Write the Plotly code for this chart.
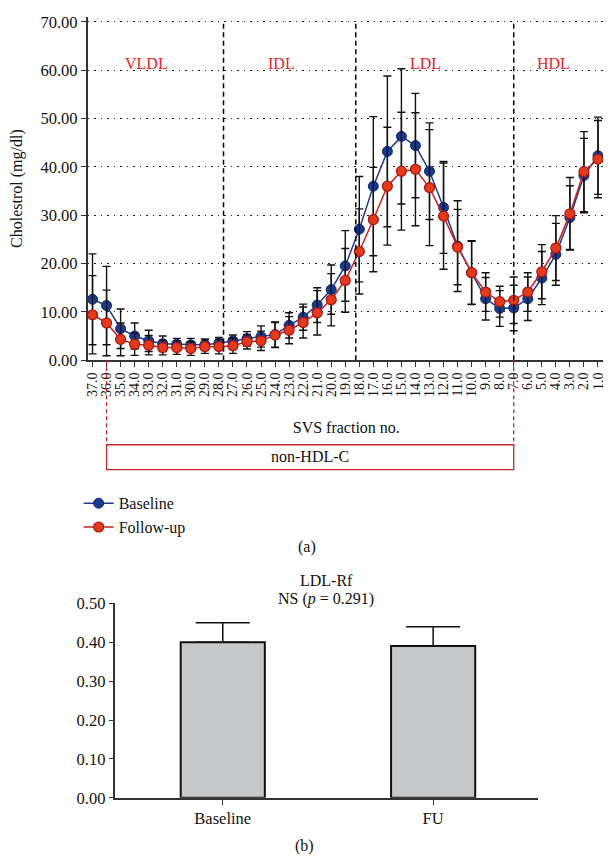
import plotly.graph_objects as go

# ---------------- data ----------------
fractions = [37, 36, 35, 34, 33, 32, 31, 30, 29, 28, 27, 26, 25, 24, 23, 22, 21, 20, 19,
             18, 17, 16, 15, 14, 13, 12, 11, 10, 9, 8, 7, 6, 5, 4, 3, 2, 1]
fraction_labels = [f"{f:.1f}" for f in fractions]

baseline = [12.6, 11.3, 6.5, 5.0, 4.0, 3.4, 3.3, 3.2, 3.2, 3.5, 4.0, 4.4, 4.9, 5.3, 7.2, 8.9,
            11.4, 14.6, 19.5, 27.1, 36.0, 43.2, 46.3, 44.4, 39.1, 31.6, 23.6, 18.1, 12.7,
            10.7, 10.8, 12.7, 17.0, 21.9, 29.5, 38.2, 42.3]
baseline_sd = [9.4, 8.1, 4.1, 2.7, 2.2, 1.6, 1.2, 1.3, 1.2, 1.2, 1.2, 1.5, 2.2, 2.6, 2.6, 2.7,
               3.6, 5.1, 7.3, 10.9, 14.4, 15.6, 14.0, 10.8, 10.0, 9.5, 9.4, 6.6, 4.4,
               3.7, 4.7, 4.5, 5.5, 6.4, 6.6, 7.7, 8.0]
followup = [9.4, 7.7, 4.3, 3.3, 3.1, 2.6, 2.6, 2.4, 2.8, 2.8, 3.0, 3.8, 4.0, 5.2, 6.2, 7.8,
            9.8, 12.5, 16.5, 22.5, 29.1, 36.0, 39.1, 39.5, 35.7, 29.8, 23.4, 18.1, 14.1,
            12.1, 12.4, 14.1, 18.3, 23.2, 30.3, 39.0, 41.6]
followup_sd = [8.1, 6.8, 3.4, 2.3, 2.0, 1.5, 1.4, 1.4, 1.4, 1.5, 1.6, 1.5, 2.0, 2.6, 2.8, 3.2,
               4.6, 5.4, 6.6, 8.8, 10.8, 12.2, 12.2, 11.7, 12.0, 11.0, 7.8, 6.5, 4.0,
               3.2, 4.8, 4.0, 5.6, 6.7, 7.5, 8.3, 8.0]

y_ticks = [0, 10, 20, 30, 40, 50, 60, 70]

regions = ["VLDL", "IDL", "LDL", "HDL"]
region_label_pos = [3.83, 13.47, 23.68, 32.82]     # in fraction-index units
region_boundaries = [9.33, 18.75, 30.0]             # dashed separators (index units)
nonhdl_span = [1, 30]                               # fraction 36.0 .. 7.0

bar_groups = ["Baseline", "FU"]
ldl_rf = [0.40, 0.39]
ldl_rf_err = [0.05, 0.05]
bar_ticks = [0.0, 0.1, 0.2, 0.3, 0.4, 0.5]

# ---------------- helpers ----------------
# the html page has an 8px body margin, so the figure is made smaller and
# reference pixel positions are shifted by that margin
M = 8
W, H = 597, 851
FONT = "Liberation Serif"


def px(x):
    return min(1.0, max(0.0, (x - M) / W))


def py(y):
    return min(1.0, max(0.0, 1 - (y - M) / H))


idx = list(range(len(fractions)))

fig = go.Figure()

fig.add_trace(go.Scatter(
    x=idx, y=baseline, name="Baseline", mode="lines+markers",
    error_y=dict(type="data", array=baseline_sd, color="#111111", thickness=1.4, width=4),
    line=dict(color="#1f3b8c", width=1.5),
    marker=dict(size=10, color="#1b3a8e", line=dict(color="#13296b", width=1)),
    xaxis="x", yaxis="y"))

fig.add_trace(go.Scatter(
    x=idx, y=followup, name="Follow-up", mode="lines+markers",
    error_y=dict(type="data", array=followup_sd, color="#111111", thickness=1.4, width=4),
    line=dict(color="#c8231f", width=1.5),
    marker=dict(size=10, color="#e23a1c", line=dict(color="#a8160f", width=1.2)),
    xaxis="x", yaxis="y"))

fig.add_trace(go.Bar(
    x=bar_groups, y=ldl_rf, width=0.4, showlegend=False,
    error_y=dict(type="data", symmetric=False, array=ldl_rf_err, arrayminus=[0, 0],
                 color="#111111", thickness=1.5, width=27),
    marker=dict(color="#c6c7c9", line=dict(color="#111111", width=2)),
    xaxis="x2", yaxis="y2"))

shapes = []
for b in region_boundaries:
    shapes.append(dict(type="line", xref="x", yref="y", x0=b, x1=b, y0=0, y1=70,
                       line=dict(color="black", width=1.5, dash="5px,3.5px")))
for b in nonhdl_span:
    shapes.append(dict(type="line", xref="x", yref="paper", x0=b, x1=b,
                       y0=py(359), y1=py(445.5),
                       line=dict(color="#c0282a", width=1.3, dash="4px,3px"), layer="above"))
shapes.append(dict(type="rect", xref="x", yref="paper", x0=nonhdl_span[0], x1=nonhdl_span[1],
                   y0=py(471), y1=py(445.5), line=dict(color="#c0282a", width=1.3)))

TXT = dict(showarrow=False, xanchor="center", yanchor="middle")
annotations = []
for name, pos in zip(regions, region_label_pos):
    annotations.append(dict(text=name, x=pos, y=61.3, xref="x", yref="y",
                            font=dict(family=FONT, size=16, color="#e8231f"), **TXT))
annotations += [
    dict(text="non-HDL-C", x=sum(nonhdl_span) / 2, y=py(458), xref="x", yref="paper",
         font=dict(family=FONT, size=16, color="#111"), **TXT),
    dict(text="(a)", x=px(305), y=py(550), xref="paper", yref="paper",
         font=dict(family=FONT, size=16, color="#111"), **TXT),
    dict(text="(b)", x=px(303), y=py(856), xref="paper", yref="paper",
         font=dict(family=FONT, size=16, color="#111"), **TXT),
    dict(text="LDL-Rf", x=px(325), y=py(584), xref="paper", yref="paper",
         font=dict(family=FONT, size=16, color="#111"), **TXT),
    dict(text="NS (<i>p</i> = 0.291)", x=px(325), y=py(603), xref="paper", yref="paper",
         font=dict(family=FONT, size=16, color="#111"), **TXT),
]

axis_common = dict(showline=True, linecolor="#333", linewidth=1.5, ticks="outside",
                   ticklen=5, tickwidth=1.3, tickcolor="#333", zeroline=False,
                   ticklabeloverflow="allow",
                   tickfont=dict(family=FONT, size=16.5, color="#111"))

fig.update_layout(
    width=W, height=H, margin=dict(l=0, r=0, t=0, b=0),
    paper_bgcolor="white", plot_bgcolor="white",
    font=dict(family=FONT, color="#111"),
    showlegend=True,
    legend=dict(x=px(76), y=py(488), xanchor="left", yanchor="top",
                font=dict(family=FONT, size=16, color="#111"), bgcolor="rgba(0,0,0,0)",
                tracegroupgap=0),
    xaxis=dict(domain=[px(85), px(605)], range=[-0.35, 36.5], anchor="y",
               tickmode="array", tickvals=idx, ticktext=fraction_labels, tickangle=-90,
               showgrid=False,
               title=dict(text="SVS fraction no.", standoff=26,
                          font=dict(family=FONT, size=16, color="#111")),
               **{**axis_common, "tickfont": dict(family=FONT, size=14, color="#111")}),
    yaxis=dict(domain=[py(359), 1], range=[0, (359 - M) / (346 / 70)], anchor="x",
               tickmode="array", tickvals=y_ticks, tickformat=".2f",
               showgrid=True, gridcolor="#222", gridwidth=1, griddash="1.5px,5px",
               title=dict(text="Cholestrol (mg/dl)", standoff=14,
                          font=dict(family=FONT, size=16, color="#111")),
               **axis_common),
    xaxis2=dict(domain=[px(113), px(538)], range=[-0.51, 1.5], anchor="y2", type="category",
                showgrid=False, **axis_common),
    yaxis2=dict(domain=[py(806.7), py(607.7)], range=[0, 0.5], anchor="x2",
                tickmode="array", tickvals=bar_ticks, tickformat=".2f", showgrid=False,
                **axis_common),
    shapes=shapes, annotations=annotations,
)

fig.write_html("out.html")
